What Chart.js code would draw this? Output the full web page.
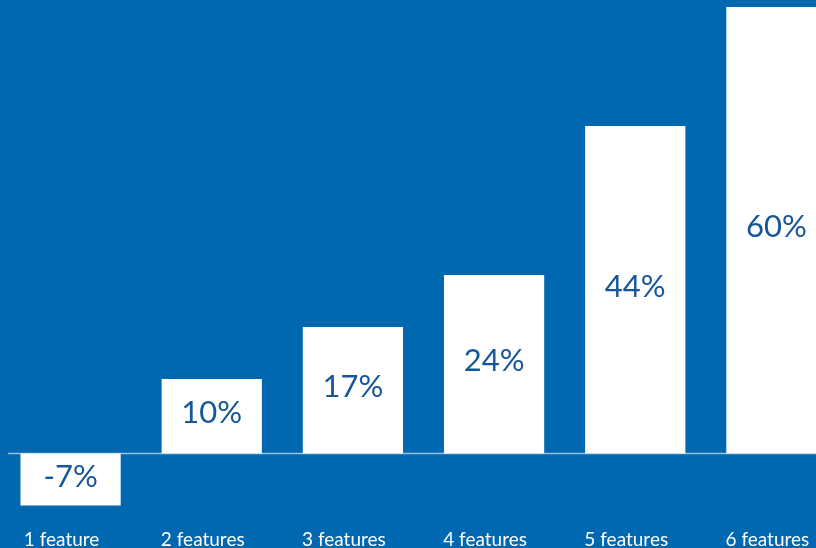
<!DOCTYPE html>
<html>
<head>
<meta charset="utf-8">
<script src="https://cdn.jsdelivr.net/npm/chart.js@4/dist/chart.umd.min.js"></script>
<style>
  html, body { margin: 0; padding: 0; background: #0067b1; overflow: hidden; }
  .chart-container { width: 847px; height: 548px; }
</style>
</head>
<body>
<div class="chart-container">
  <canvas id="myChart" width="847" height="548"></canvas>
</div>
<script>
const categories = ['1 feature', '2 features', '3 features', '4 features', '5 features', '6 features'];
const values = [-7, 10, 17, 24, 44, 60];

const BG = '#0067b1';
const VALUE_COLOR = '#15579a';

// draws the thin zero line behind the bars
const zeroLine = {
  id: 'zeroLine',
  beforeDatasetsDraw(chart) {
    const { ctx, chartArea, scales } = chart;
    const y = Math.round(scales.y.getPixelForValue(0)) + 0.5;
    ctx.save();
    ctx.strokeStyle = 'rgba(255,255,255,0.6)';
    ctx.lineWidth = 1.5;
    ctx.beginPath();
    ctx.moveTo(chartArea.left + 8, y);
    ctx.lineTo(chartArea.right, y);
    ctx.stroke();
    ctx.restore();
  }
};

// percent labels in the middle of each bar
const barLabels = {
  id: 'barLabels',
  afterDatasetsDraw(chart) {
    const { ctx } = chart;
    const meta = chart.getDatasetMeta(0);
    ctx.save();
    ctx.fillStyle = VALUE_COLOR;
    ctx.font = '31px Lato, "Open Sans", sans-serif';
    ctx.textAlign = 'center';
    ctx.textBaseline = 'middle';
    meta.data.forEach((bar, i) => {
      const mid = (bar.y + bar.base) / 2 - 3;
      ctx.fillText(values[i] + '%', bar.x, mid);
    });
    ctx.restore();
  }
};

const ctx = document.getElementById('myChart').getContext('2d');
new Chart(ctx, {
  type: 'bar',
  data: {
    labels: categories,
    datasets: [{
      data: values,
      backgroundColor: '#ffffff',
      borderWidth: 0,
      barPercentage: 0.71,
      categoryPercentage: 1.0
    }]
  },
  options: {
    responsive: false,
    animation: false,
    layout: { padding: { top: 7, left: 0, right: 0, bottom: 0 } },
    plugins: {
      legend: { display: false },
      tooltip: { enabled: false }
    },
    scales: {
      x: {
        grid: { display: false, drawTicks: false },
        border: { display: false },
        afterFit(scale) { scale.height = 35; },
        ticks: {
          color: '#ffffff',
          font: { family: 'Lato, "Open Sans", sans-serif', size: 19 },
          padding: 15,
          labelOffset: -9,
          maxRotation: 0
        }
      },
      y: {
        display: false,
        min: -8,
        max: 60
      }
    }
  },
  plugins: [zeroLine, barLabels]
});
</script>
</body>
</html>
